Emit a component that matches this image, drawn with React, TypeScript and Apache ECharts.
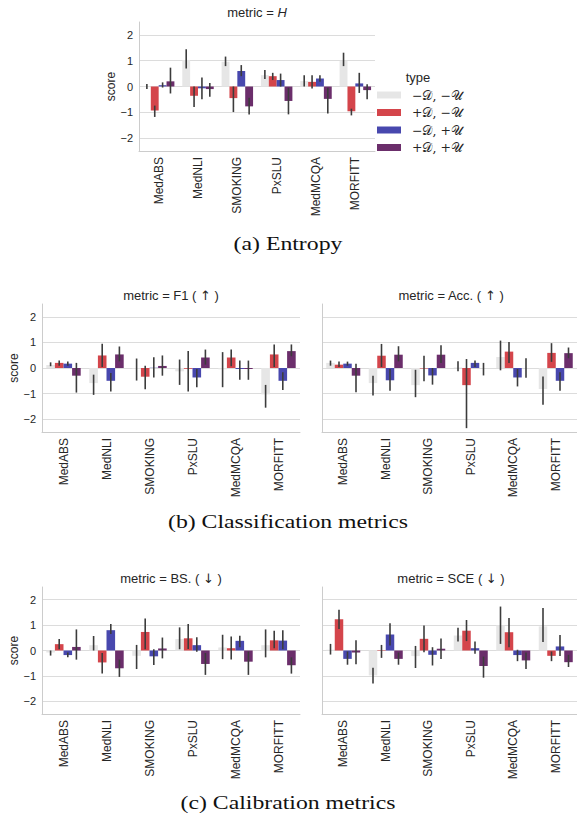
import React, { useEffect, useRef } from "react";
import * as echarts from "echarts";

const categories = ["MedABS", "MedNLI", "SMOKING", "PxSLU", "MedMCQA", "MORFITT"];
const typeNames = ["−𝒟, −𝒰", "+𝒟, −𝒰", "−𝒟, +𝒰", "+𝒟, +𝒰"];
const typeColors = ["#e6e6e6", "#d4454b", "#4848ae", "#6b2e6b"];
const yTicks = [-2, -1, 0, 1, 2];
const panelTitles = ["metric = {i|H}", "metric = F1 ( {a|↑} )", "metric = Acc. ( {a|↑} )", "metric = BS. ( {a|↓} )", "metric = SCE ( {a|↓} )"];
const captions = ["(a) Entropy", "(b) Classification metrics", "(c) Calibration metrics"];

// rows: −D−U, +D−U, −D+U, +D+U ; columns follow categories
const entropyMean = [
  [-0.02, 1.03, 0.96, 0.44, 0.21, 1.0],
  [-0.93, -0.36, -0.45, 0.4, 0.18, -0.96],
  [0.05, -0.07, 0.6, 0.25, 0.31, 0.12],
  [0.2, -0.1, -0.77, -0.56, -0.48, -0.14],
];
const entropyLo = [
  [-0.1, 0.7, 0.79, 0.29, 0.0, 0.79],
  [-1.18, -0.79, -0.99, 0.25, -0.08, -1.12],
  [-0.04, -0.49, 0.4, 0.0, 0.18, -0.25],
  [-0.27, -0.4, -1.09, -1.08, -1.05, -0.49],
];
const entropyHi = [
  [0.1, 1.44, 1.16, 0.64, 0.44, 1.31],
  [-0.74, 0.0, 0.0, 0.53, 0.44, -0.86],
  [0.16, 0.35, 0.83, 0.5, 0.44, 0.53],
  [0.73, 0.14, -0.44, -0.05, -0.05, 0.09],
];

const f1Mean = [
  [0.12, -0.59, -0.04, -0.13, -0.05, -1.03],
  [0.2, 0.49, -0.34, -0.03, 0.41, 0.53],
  [0.17, -0.5, 0.01, -0.37, -0.04, -0.5],
  [-0.3, 0.53, 0.08, 0.41, -0.04, 0.66],
];
const f1Lo = [
  [0.07, -1.05, -0.49, -0.66, -0.75, -1.55],
  [0.09, 0.04, -0.83, -0.92, 0.07, 0.04],
  [0.09, -0.92, -0.37, -0.75, -0.46, -0.86],
  [-0.96, 0.26, -0.3, 0.13, -0.46, 0.46],
];
const f1Hi = [
  [0.22, -0.26, 0.37, 0.33, 0.62, -0.66],
  [0.29, 0.95, 0.09, 0.66, 0.72, 0.92],
  [0.25, -0.2, 0.42, -0.04, 0.29, -0.17],
  [0.2, 0.84, 0.49, 0.72, 0.29, 0.92],
];

const accMean = [
  [0.2, -0.59, -0.67, 0.02, 0.43, -0.82],
  [0.13, 0.48, -0.02, -0.67, 0.64, 0.59],
  [0.17, -0.48, -0.29, 0.2, -0.37, -0.5],
  [-0.3, 0.52, 0.52, 0.0, 0.0, 0.58],
];
const accLo = [
  [0.09, -1.07, -1.14, -0.13, -0.09, -1.44],
  [0.04, 0.04, -0.52, -2.35, 0.2, 0.24],
  [0.09, -0.89, -0.65, 0.04, -0.72, -0.89],
  [-0.95, 0.26, 0.2, -0.29, -0.38, 0.38],
];
const accHi = [
  [0.29, -0.3, -0.07, 0.26, 1.07, -0.33],
  [0.25, 0.94, 0.48, 0.35, 1.02, 0.97],
  [0.25, -0.04, 0.0, 0.29, -0.04, -0.17],
  [0.17, 0.85, 0.89, 0.2, 0.38, 0.8],
];

const bsMean = [
  [-0.08, 0.21, -0.21, 0.45, 0.12, 0.21],
  [0.25, -0.47, 0.73, 0.48, 0.09, 0.4],
  [-0.18, 0.8, -0.23, 0.21, 0.38, 0.39],
  [0.14, -0.7, 0.08, -0.53, -0.44, -0.58],
];
const bsLo = [
  [-0.2, 0.0, -0.73, 0.05, -0.34, -0.27],
  [0.05, -0.91, 0.05, 0.06, -0.35, 0.09],
  [-0.27, 0.65, -0.57, -0.05, 0.13, 0.05],
  [-0.36, -1.04, -0.31, -0.96, -0.96, -0.91],
];
const bsHi = [
  [0.0, 0.57, 0.22, 0.91, 0.62, 0.83],
  [0.45, -0.1, 1.26, 1.04, 0.55, 0.78],
  [-0.08, 1.04, 0.05, 0.52, 0.58, 0.8],
  [0.83, -0.36, 0.51, -0.1, -0.04, -0.27],
];

const sceMean = [
  [0.03, -0.98, -0.22, 0.59, 0.99, 0.95],
  [1.23, -0.02, 0.46, 0.78, 0.72, -0.21],
  [-0.33, 0.63, -0.17, 0.09, -0.18, 0.16],
  [-0.08, -0.33, 0.07, -0.61, -0.39, -0.46],
];
const sceLo = [
  [-0.16, -1.3, -0.69, 0.35, 0.26, 0.33],
  [0.85, -0.29, -0.07, 0.37, 0.13, -0.42],
  [-0.56, 0.2, -0.59, -0.13, -0.42, -0.22],
  [-0.54, -0.56, -0.33, -1.07, -0.73, -0.65],
];
const sceHi = [
  [0.26, -0.68, 0.18, 0.9, 1.73, 1.67],
  [1.6, 0.22, 0.98, 1.2, 1.28, -0.04],
  [-0.04, 1.07, 0.13, 0.35, 0.03, 0.61],
  [0.4, -0.08, 0.47, -0.24, -0.08, -0.17],
];

const SANS = '"Liberation Sans", Arial, "DejaVu Sans", sans-serif';
const SERIF = '"Liberation Serif", "DejaVu Serif", serif';
const TEXT = "#262626";

export default function App() {
  const ref = useRef<HTMLDivElement>(null);
  useEffect(() => {
    document.body.style.margin = "0";
    if (!ref.current) return;
    const chart = echarts.init(ref.current, null, { renderer: "svg" });

    const means = [entropyMean, f1Mean, accMean, bsMean, sceMean];
    const los = [entropyLo, f1Lo, accLo, bsLo, sceLo];
    const his = [entropyHi, f1Hi, accHi, bsHi, sceHi];

    const grids = [
      { left: 139, top: 22, width: 236, height: 129 },
      { left: 42, top: 304, width: 258, height: 128 },
      { left: 322, top: 304, width: 258, height: 128 },
      { left: 42, top: 587, width: 258, height: 127 },
      { left: 322, top: 587, width: 258, height: 127 },
    ];
    const titleTops = [6, 289, 289, 572, 572];
    const showYLabels = [true, true, false, true, false];
    const nameGaps = [20, 21, 21, 21, 21];

    const xAxes = grids.map((_, p) => ({
      type: "category",
      gridIndex: p,
      data: categories,
      axisLine: { show: true, onZero: false, lineStyle: { color: "#cccccc", width: 1 } },
      axisTick: { show: false },
      splitLine: { show: false },
      axisLabel: { rotate: 90, margin: 6, fontSize: 12, color: TEXT, fontFamily: SANS },
    }));

    const yAxes = grids.map((_, p) => ({
      type: "value",
      gridIndex: p,
      min: -2.5,
      max: 2.5,
      name: showYLabels[p] ? "score" : "",
      nameLocation: "middle",
      nameGap: nameGaps[p],
      nameTextStyle: { fontSize: 12, color: TEXT, fontFamily: SANS },
      axisLine: { show: true, lineStyle: { color: "#cccccc", width: 1 } },
      axisTick: { show: false, customValues: yTicks },
      axisLabel: {
        show: showYLabels[p],
        customValues: yTicks,
        margin: 6,
        fontSize: 11,
        color: TEXT,
        fontFamily: SANS,
        formatter: (v: number) => (v < 0 ? "−" + Math.abs(v) : String(v)),
      },
      splitLine: { show: true, lineStyle: { color: "#dcdcdc", width: 1 } },
    }));

    const series: any[] = [];
    grids.forEach((_, p) => {
      for (let k = 0; k < 4; k++) {
        series.push({
          type: "bar",
          name: typeNames[k],
          xAxisIndex: p,
          yAxisIndex: p,
          data: means[p][k],
          barGap: "0%",
          barCategoryGap: "20%",
          itemStyle: { color: typeColors[k] },
          z: 2,
        });
      }
      for (let k = 0; k < 4; k++) {
        series.push({
          type: "custom",
          xAxisIndex: p,
          yAxisIndex: p,
          z: 5,
          silent: true,
          encode: { x: 0, y: [1, 2] },
          data: categories.map((_c, i) => [i, los[p][k][i], his[p][k][i]]),
          renderItem: (_params: any, api: any) => {
            const ci = api.value(0);
            const a = api.coord([ci, api.value(1)]);
            const b = api.coord([ci, api.value(2)]);
            const bw = api.size([1, 0])[0];
            const x = a[0] + (k - 1.5) * bw * 0.2;
            return {
              type: "line",
              shape: { x1: x, y1: a[1], x2: x, y2: b[1] },
              style: { stroke: "#3c3c3c", lineWidth: 1.6 },
            };
          },
        });
      }
    });

    const titles = grids.map((g, p) => ({
      text: panelTitles[p],
      left: g.left + g.width / 2,
      top: titleTops[p],
      textAlign: "center",
      padding: 0,
      textStyle: {
        fontSize: 13,
        fontWeight: "normal",
        color: TEXT,
        fontFamily: SANS,
        rich: {
          i: { fontSize: 13, fontStyle: "italic", color: TEXT, fontFamily: SANS },
          a: { fontSize: 13, color: TEXT, fontFamily: '"DejaVu Sans", sans-serif' },
        },
      },
    }));

    const captionYs = [244, 522, 803];
    const graphics: any[] = captions.map((c, i) => ({
      type: "text",
      x: 288,
      y: captionYs[i],
      scaleX: 1.25,
      style: {
        text: c,
        x: 0,
        y: 0,
        align: "center",
        verticalAlign: "middle",
        fontSize: 19,
        fontFamily: SERIF,
        fill: "#111111",
      },
    }));
    graphics.push({
      type: "text",
      x: 418,
      y: 77,
      style: {
        text: "type",
        align: "center",
        verticalAlign: "middle",
        fontSize: 13,
        fontFamily: SANS,
        fill: TEXT,
      },
    });

    chart.setOption({
      animation: false,
      backgroundColor: "#ffffff",
      title: titles,
      grid: grids,
      xAxis: xAxes,
      yAxis: yAxes,
      legend: {
        data: typeNames,
        orient: "vertical",
        left: 377,
        top: 88,
        padding: 0,
        itemWidth: 24,
        itemHeight: 7,
        itemGap: 3.5,
        icon: "rect",
        selectedMode: false,
        textStyle: { fontSize: 12.5, color: TEXT, fontFamily: '"DejaVu Serif", "DejaVu Sans", serif', lineHeight: 14, padding: [0, 0, 0, 6] },
      },
      graphic: graphics,
      series,
    });

    return () => chart.dispose();
  }, []);

  return <div ref={ref} style={{ width: 577, height: 818 }} />;
}
